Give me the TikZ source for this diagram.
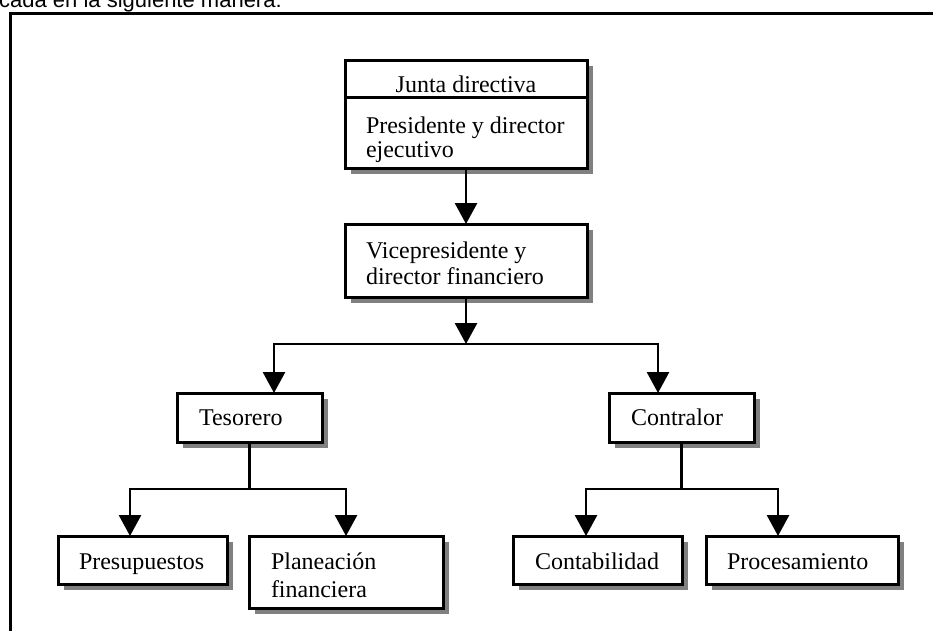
\documentclass[tikz,border=0pt]{standalone}
\usepackage{fontspec}
\setmainfont{Liberation Serif}
\newfontfamily\arialfont{Liberation Sans}
\usetikzlibrary{arrows.meta,shadows}
\tikzset{
  box/.style={draw, line width=3pt, fill=white, inner sep=0pt, outer sep=0pt,
    anchor=north west,
    drop shadow={shadow xshift=6pt,shadow yshift=-6pt,fill=black!50,opacity=1}},
  lbl/.style={inner sep=0pt, outer sep=0pt, anchor=base west, align=left,
    font=\fontsize{24}{26}\selectfont},
  conn/.style={line width=2.8pt},
  arr/.style={line width=2.8pt, -{Triangle[width=22pt,length=21pt]}},
  frame/.style={line width=3pt},
}
\begin{document}
\begin{tikzpicture}[x=1pt,y=-1pt]
\useasboundingbox (0,0) rectangle (933,630);
\clip (0,0) rectangle (933,630);
\fill[white] (0,0) rectangle (933,630);
% intro text, clipped at top
\node[inner sep=0pt, anchor=base west, font=\arialfont\fontsize{22}{22}\selectfont] (intro) at (-1,7) {cada en la siguiente manera:};
% frame
\draw[frame] (10,645) -- (10,13) -- (950,13);
% boxes
\node[box, minimum width=242pt, minimum height=37pt] (jd) at (345,60) {};
\node[box, minimum width=242pt, minimum height=71pt] (pres) at (345,97) {};
\node[box, minimum width=242pt, minimum height=73pt] (vp) at (345,224) {};
\node[box, minimum width=145pt, minimum height=49pt] (tes) at (177,393) {};
\node[box, minimum width=145pt, minimum height=49pt] (con) at (609,393) {};
\node[box, minimum width=169pt, minimum height=48pt] (presu) at (58,536) {};
\node[box, minimum width=194pt, minimum height=72pt] (plan) at (249,536) {};
\node[box, minimum width=169pt, minimum height=48pt] (conta) at (513,536) {};
\node[box, minimum width=192pt, minimum height=48pt] (proc) at (706,536) {};
% texts (base anchor = baseline of the last line)
\node[lbl, anchor=base] (jdT) at (466,92) {Junta directiva};
\node[lbl, font=\fontsize{24}{24}\selectfont] (presT) at (366,157) {Presidente y director\\ejecutivo};
\node[lbl] (vpT) at (366,284) {Vicepresidente y\\director financiero};
\node[lbl] (tesT) at (199,425) {Tesorero};
\node[lbl] (conT) at (631,425) {Contralor};
\node[lbl] (presuT) at (79,569) {Presupuestos};
\node[lbl, font=\fontsize{24}{28}\selectfont] (planT) at (271,597) {Planeación\\financiera};
\node[lbl] (contaT) at (535,569) {Contabilidad};
\node[lbl] (procT) at (727,569) {Procesamiento};
% connectors
\coordinate (j1) at (466,344);
\coordinate (jl) at (274,344);
\coordinate (jr) at (658,344);
\draw[arr] (pres.south) -- (vp.north);
\draw[arr] (vp.south) -- (j1);
\draw[arr] (j1) -| (jl |- tes.north);
\draw[arr] (j1) -| (jr |- con.north);
\coordinate (tj) at (249.5,489);
\coordinate (tjl) at (130,489);
\coordinate (tjr) at (346,489);
\draw[conn] (tes.south) -- (tj);
\draw[arr] (tj) -| (tjl |- presu.north);
\draw[arr] (tj) -| (tjr |- plan.north);
\coordinate (cj) at (681.5,489);
\coordinate (cjl) at (586,489);
\coordinate (cjr) at (778,489);
\draw[conn] (con.south) -- (cj);
\draw[arr] (cj) -| (cjl |- conta.north);
\draw[arr] (cj) -| (cjr |- proc.north);
\end{tikzpicture}
\end{document}
